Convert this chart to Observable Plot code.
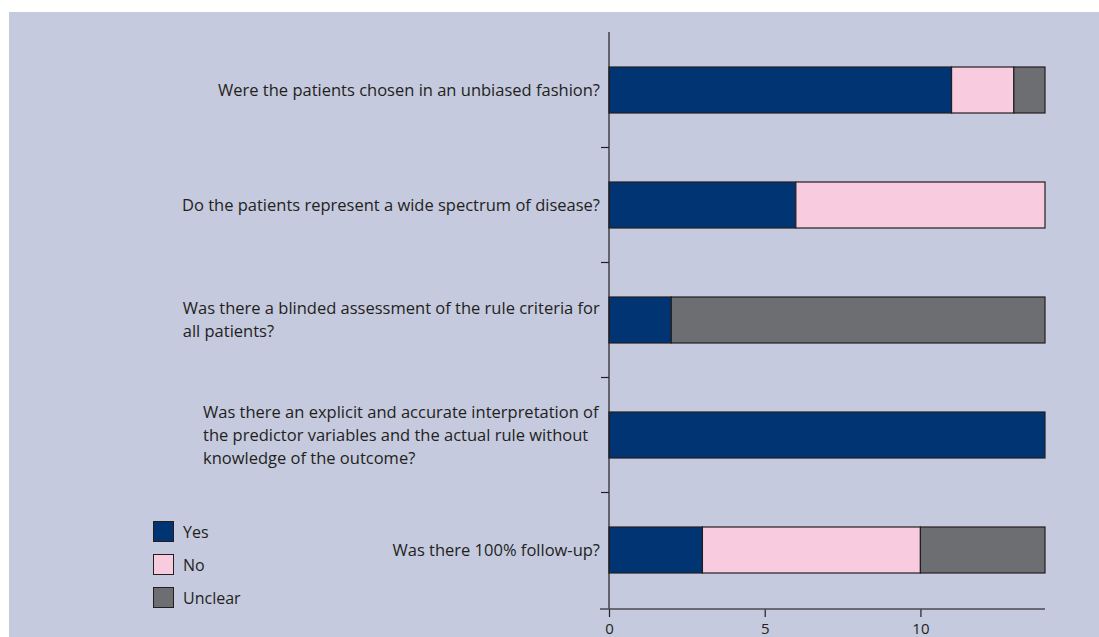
<!DOCTYPE html>
<html><head><meta charset="utf-8">
<script src="https://cdn.jsdelivr.net/npm/d3@7"></script>
<script src="https://cdn.jsdelivr.net/npm/@observablehq/plot@0.6"></script>
<style>
body{margin:0;background:#fff;}
#panel{position:absolute;left:9px;top:12px;width:1090px;height:625px;background:#c5cadf;overflow:hidden;font-family:"Open Sans",sans-serif;}
#legend{position:absolute;left:144px;top:503px;}
.item{display:flex;align-items:center;height:33px;font-size:16px;color:#231f20;}
.sw{width:21px;height:21px;border:1px solid #231f20;box-sizing:border-box;margin-right:9px;}
#chart{position:absolute;left:0;top:0;}
</style></head><body><div id="panel"><div id="chart"></div><div id="legend"></div></div>
<script>
const questions = [
  "Were the patients chosen in an unbiased fashion?",
  "Do the patients represent a wide spectrum of disease?",
  "Was there a blinded assessment of the rule criteria for\nall patients?",
  "Was there an explicit and accurate interpretation of\nthe predictor variables and the actual rule without\nknowledge of the outcome?",
  "Was there 100% follow-up?"
];
const series = ["Yes", "No", "Unclear"];
const yes = [11, 6, 2, 14, 3];
const no = [2, 8, 0, 0, 7];
const unclear = [1, 0, 12, 0, 4];
const colors = ["#003473", "#f8cbdf", "#6d6e71"];
const xTicks = [0, 5, 10];

const FONT = '"Open Sans", sans-serif';
const FS = 16.5;
const LH = 23;
const INK = "#231f20";

const data = [];
const vals = [yes, no, unclear];
questions.forEach((q, i) => {
  series.forEach((s, j) => {
    if (vals[j][i] > 0) data.push({question: q, answer: s, count: vals[j][i]});
  });
});

function customAxes(index, scales, values, dimensions) {
  const x = scales.x, y = scales.y;
  const g = d3.create("svg:g");
  const step = y(questions[1]) - y(questions[0]);
  const bw = typeof y.bandwidth === "function" ? y.bandwidth() : step * 0.4;
  const x0 = x(0);
  const top = dimensions.marginTop;
  const bottom = dimensions.height - dimensions.marginBottom;
  g.append("line").attr("x1", x0).attr("x2", x0).attr("y1", top).attr("y2", bottom)
    .attr("stroke", INK).attr("stroke-width", 1.2);
  g.append("line").attr("x1", x0 - 9).attr("x2", x(14)).attr("y1", bottom).attr("y2", bottom)
    .attr("stroke", "#4a4a50").attr("stroke-width", 1.6);
  for (let i = 0; i < questions.length - 1; i++) {
    const yb = (y(questions[i]) + y(questions[i + 1])) / 2 + bw / 2;
    g.append("line").attr("x1", x0 - 8).attr("x2", x0).attr("y1", yb).attr("y2", yb)
      .attr("stroke", INK).attr("stroke-width", 1.2);
  }
  questions.forEach(q => {
    const lines = q.split("\n");
    const cy = y(q) + bw / 2;
    const t = g.append("text").attr("class", "qlabel").attr("data-right", x0 - 9)
      .attr("text-anchor", "start")
      .attr("font-family", FONT).attr("font-size", FS).attr("fill", INK);
    lines.forEach((l, k) => {
      t.append("tspan").attr("x", 0)
        .attr("y", cy + (k - (lines.length - 1) / 2) * LH).attr("dy", "0.35em").text(l);
    });
  });
  return g.node();
}

const plot = Plot.plot({
  width: 1090,
  height: 625,
  marginLeft: 600,
  marginRight: 54,
  marginTop: 20,
  marginBottom: 28,
  style: {background: "transparent", fontFamily: FONT, color: INK, overflow: "visible"},
  x: {domain: [0, 14], axis: null, label: null},
  y: {domain: questions, paddingInner: 0.6, paddingOuter: 0.3, axis: null, label: null},
  color: {domain: series, range: colors},
  marks: [
    Plot.barX(data, Plot.stackX({y: "question", x: "count", fill: "answer", order: series,
      stroke: INK, strokeWidth: 1.2})),
    Plot.axisX({ticks: xTicks, tickSize: 8, tickPadding: 6, fontSize: 15, stroke: INK, strokeWidth: 1.2,
      fill: INK, tickFormat: d => d, label: null}),
    customAxes
  ]
});
document.getElementById("chart").appendChild(plot);

// right-align each label block while keeping its lines left-aligned
d3.selectAll("text.qlabel").each(function() {
  const right = +this.getAttribute("data-right");
  const bb = this.getBBox();
  d3.select(this).selectAll("tspan").attr("x", right - bb.width);
});

const legend = d3.select("#legend");
series.forEach((s, i) => {
  const it = legend.append("div").attr("class", "item");
  it.append("div").attr("class", "sw").style("background", colors[i]);
  it.append("span").text(s);
});
</script>
</body></html>
